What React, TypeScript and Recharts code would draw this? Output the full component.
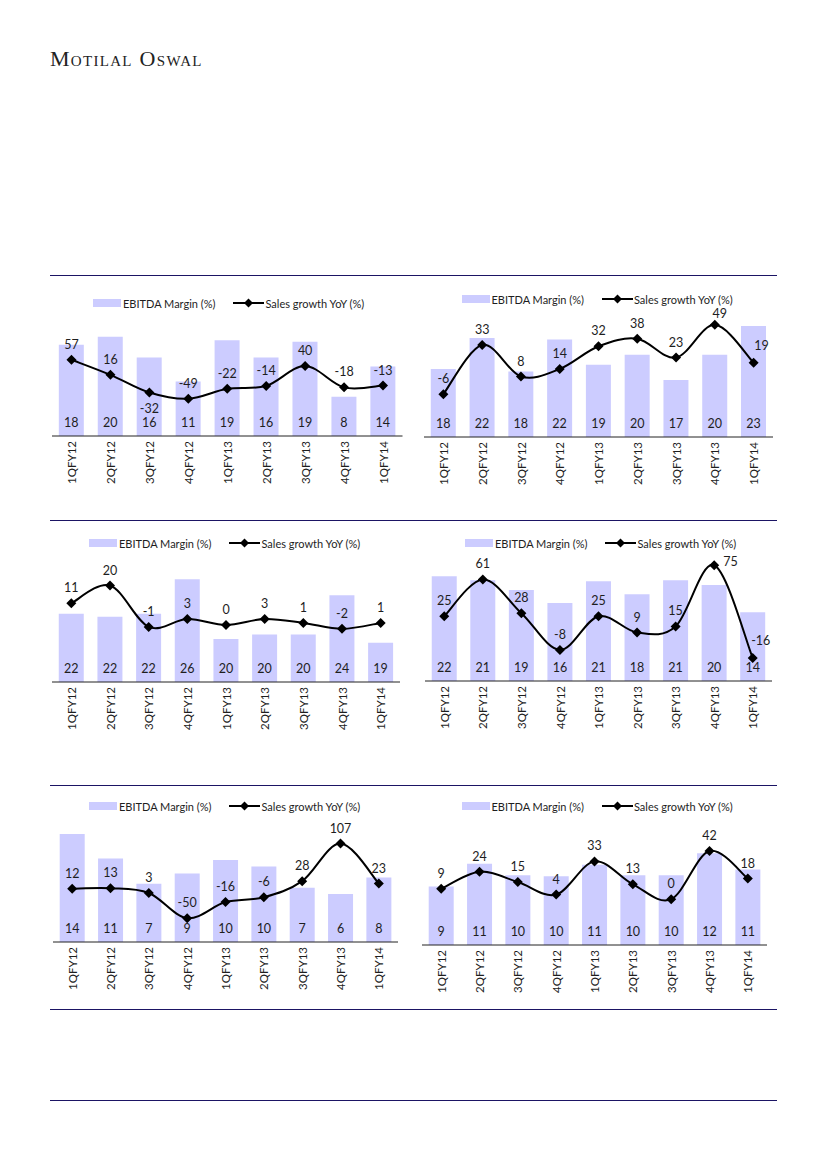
import React from "react";
import { Bar, ComposedChart, LabelList, Line, XAxis, YAxis } from "recharts";

// quarters shared by all six panels
const quarters = ["1QFY12", "2QFY12", "3QFY12", "4QFY12", "1QFY13", "2QFY13", "3QFY13", "4QFY13", "1QFY14"];

// EBITDA margin (%) and sales growth YoY (%) per panel
const marginA = [18.1, 19.7, 15.6, 10.8, 19.0, 15.6, 18.7, 7.8, 13.8];
const growthA = [57, 16, -32, -49, -22, -14, 40, -18, -13];

const marginB = [18.1, 21.8, 17.8, 21.6, 18.6, 19.8, 16.8, 19.8, 23.2];
const growthB = [-6, 33, 8, 14, 32, 38, 23, 49, 19];

const marginC = [22.3, 22.0, 22.3, 26.0, 19.6, 20.1, 20.1, 24.3, 19.2];
const growthC = [11, 20, -1, 3, 0, 3, 1, -2, 1];

const marginD = [21.6, 20.8, 18.8, 16.1, 20.6, 17.9, 20.8, 19.8, 14.2];
const growthD = [25, 61, 28, -8, 25, 9, 15, 75, -16];

const marginE = [13.7, 10.6, 7.4, 8.7, 10.4, 9.6, 6.9, 6.1, 8.2];
const growthE = [12, 13, 3, -50, -16, -6, 28, 107, 23];

const marginF = [9.1, 11.1, 10.1, 10.0, 11.0, 10.1, 10.1, 12.0, 10.6];
const growthF = [9, 24, 15, 4, 33, 13, 0, 42, 18];

const FONT = "Lato, 'Open Sans', sans-serif";
const BAR = "#CCCCFF";
const RULE = "#1B1464";
const INK = "#1E1E1E";
const PLOT_H = 126;

type Place = "below" | "right" | "upright" | "close";

type Panel = {
  margin: number[];
  growth: number[];
  left: number;
  right: number;
  base: number;
  barDomain: [number, number];
  lineDomain: [number, number];
  legend: [number, number];
  place?: Record<number, Place>;
};

const panels: Panel[] = [
  { margin: marginA, growth: growthA, left: 51.5, right: 402, base: 436, barDomain: [0, 25], lineDomain: [-150, 192], legend: [93, 303], place: { 2: "below" } },
  { margin: marginB, growth: growthB, left: 424, right: 773, base: 436.5, barDomain: [10, 25], lineDomain: [-40, 60], legend: [461.5, 299], place: { 7: "close", 8: "upright" } },
  { margin: marginC, growth: growthC, left: 52, right: 400, base: 681.5, barDomain: [15, 28.5], lineDomain: [-29, 35], legend: [89, 543] },
  { margin: marginD, growth: growthD, left: 425, right: 772, base: 680.5, barDomain: [0, 26], lineDomain: [-38.5, 85], legend: [465, 543], place: { 7: "right", 8: "upright" } },
  { margin: marginE, growth: growthE, left: 53, right: 398, base: 941.5, barDomain: [0, 16], lineDomain: [-100, 165], legend: [89, 806] },
  { margin: marginF, growth: growthF, left: 421.5, right: 766.5, base: 945, barDomain: [4, 15], lineDomain: [-40, 70], legend: [461.5, 806] },
];

const rules = [275, 520, 785, 1009, 1100];

// Excel-style smoothed line (cardinal bezier, 1/6 tangents)
const excelCurve: any = (ctx: any) => {
  let pts: number[][] = [];
  return {
    areaStart() {},
    areaEnd() {},
    lineStart() {
      pts = [];
    },
    point(x: number, y: number) {
      pts.push([+x, +y]);
    },
    lineEnd() {
      if (!pts.length) return;
      ctx.moveTo(pts[0][0], pts[0][1]);
      for (let i = 0; i < pts.length - 1; i++) {
        const p0 = pts[Math.max(i - 1, 0)];
        const p1 = pts[i];
        const p2 = pts[i + 1];
        const p3 = pts[Math.min(i + 2, pts.length - 1)];
        ctx.bezierCurveTo(
          p1[0] + (p2[0] - p0[0]) / 6,
          p1[1] + (p2[1] - p0[1]) / 6,
          p2[0] - (p3[0] - p1[0]) / 6,
          p2[1] - (p3[1] - p1[1]) / 6,
          p2[0],
          p2[1]
        );
      }
    },
  };
};

const QuarterTick = (props: any) => {
  const { x, y, payload } = props;
  return (
    <g transform={`translate(${x},${y})`}>
      <text transform="rotate(-90)" x={-5} dy="0.4em" textAnchor="end" fontSize={11.5} fontFamily={FONT} fill={INK}>
        {payload.value}
      </text>
    </g>
  );
};

function LegendRow({ x, y }: { x: number; y: number }) {
  return (
    <div
      style={{
        position: "absolute", left: x, top: y - 8, height: 16, display: "flex", alignItems: "center",
        fontFamily: FONT, fontSize: 11, color: INK, whiteSpace: "nowrap",
      }}
    >
      <span style={{ display: "inline-block", width: 28, height: 8, background: BAR, marginRight: 2 }} />
      <span>EBITDA Margin (%)</span>
      <svg width={31} height={12} style={{ marginLeft: 18, marginRight: 1 }}>
        <line x1={0} y1={6} x2={31} y2={6} stroke="#000" strokeWidth={2} />
        <polygon points="15.5,1.5 20,6 15.5,10.5 11,6" fill="#000" />
      </svg>
      <span>Sales growth YoY (%)</span>
    </div>
  );
}

function PanelChart({ p }: { p: Panel }) {
  const data = quarters.map((q, i) => ({ q, m: p.margin[i], g: p.growth[i] }));
  const padT = 40;
  const padX = 14;
  const axisH = 52;
  const w = p.right - p.left;
  const place = p.place ?? {};

  const dot = (d: any) => {
    const { cx, cy, index, value } = d;
    if (cx == null || cy == null) return <g key={`d${index}`} />;
    const where = place[index];
    let tx = cx;
    let ty = cy - 11;
    let anchor: "middle" | "start" = "middle";
    if (where === "below") ty = cy + 20;
    if (where === "right") {
      tx = cx + 9;
      ty = cy + 1;
      anchor = "start";
    }
    if (where === "upright") {
      tx = cx + 8;
      ty = cy - 13;
    }
    if (where === "close") {
      tx = cx + 5;
      ty = cy - 7;
    }
    return (
      <g key={`d${index}`}>
        <polygon points={`${cx},${cy - 5} ${cx + 5},${cy} ${cx},${cy + 5} ${cx - 5},${cy}`} fill="#000" />
        <text x={tx} y={ty} textAnchor={anchor} fontSize={12.5} fontFamily={FONT} fill={INK}>
          {value}
        </text>
      </g>
    );
  };

  return (
    <div style={{ position: "absolute", left: p.left - padX, top: p.base - PLOT_H - padT }}>
      <ComposedChart
        width={w + 2 * padX}
        height={padT + PLOT_H + axisH}
        data={data}
        margin={{ top: padT, right: padX, bottom: 0, left: padX }}
        barCategoryGap="17.5%"
      >
        <XAxis
          dataKey="q"
          height={axisH}
          interval={0}
          tickLine={false}
          tickSize={0}
          tickMargin={0}
          axisLine={{ stroke: "#222", strokeWidth: 1 }}
          tick={(t: any) => <QuarterTick {...t} />}
        />
        <YAxis yAxisId="bar" hide domain={p.barDomain} />
        <YAxis yAxisId="line" hide orientation="right" domain={p.lineDomain} />
        <Bar yAxisId="bar" dataKey="m" fill={BAR} isAnimationActive={false}>
          <LabelList
            dataKey="m"
            position="insideBottom"
            offset={9}
            fill={INK}
            fontSize={12.5}
            fontFamily={FONT}
            formatter={(v: any) => Math.round(Number(v))}
          />
        </Bar>
        <Line
          yAxisId="line"
          dataKey="g"
          type={excelCurve}
          stroke="#000"
          strokeWidth={2}
          dot={dot}
          activeDot={false}
          isAnimationActive={false}
        />
      </ComposedChart>
    </div>
  );
}

export default function App() {
  return (
    <div style={{ position: "absolute", left: 0, top: 0, width: 826, height: 1169, background: "#fff" }}>
      <div
        style={{
          position: "absolute", left: 50, top: 46.5, fontFamily: "'Liberation Serif', serif", fontSize: 22,
          lineHeight: "24px", fontVariant: "small-caps", letterSpacing: 1.3, color: "#222",
        }}
      >
        Motilal Oswal
      </div>
      {rules.map((y) => (
        <div key={y} style={{ position: "absolute", left: 50, top: y, width: 727, height: 1, background: RULE }} />
      ))}
      {panels.map((p, i) => (
        <React.Fragment key={i}>
          <LegendRow x={p.legend[0]} y={p.legend[1]} />
          <PanelChart p={p} />
        </React.Fragment>
      ))}
    </div>
  );
}
